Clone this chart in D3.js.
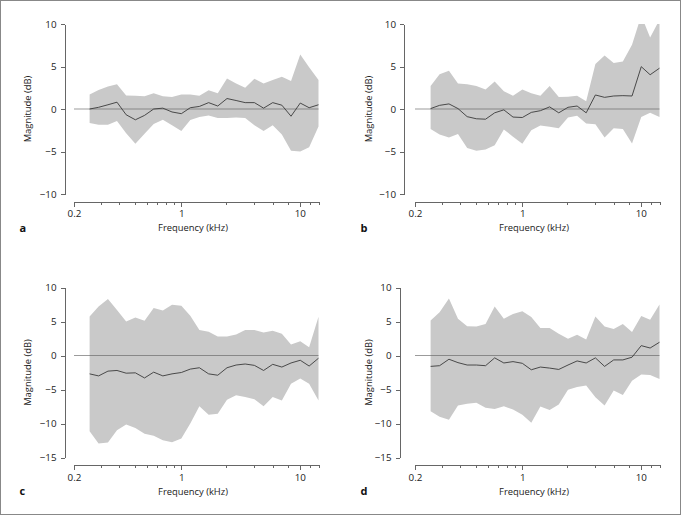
<!DOCTYPE html>
<html>
<head>
<meta charset="utf-8">
<script src="https://cdn.jsdelivr.net/npm/d3@7"></script>
<style>
  body { margin: 0; background: #fff; }
  svg { display: block; font-family: "Open Sans", sans-serif; }
  .axis path, .axis line { stroke: #666; shape-rendering: crispEdges; }
  .axis text { fill: #222; font-size: 9.8px; font-family: "Open Sans", sans-serif; }
</style>
</head>
<body>
<div id="chart"></div>
<script>
var freqs = [0.168, 0.2, 0.24, 0.286, 0.342, 0.409, 0.489, 0.584, 0.698, 0.834, 1.0, 1.19, 1.42, 1.70, 2.03, 2.43, 2.90, 3.46, 4.14, 4.95, 5.91, 7.06, 8.44, 10.1, 12.0, 14.4];

var xMajor = [0.124, 1, 10];
var xMajorLabels = ["0.2", "1", "10"];
var xMinor = [0.21, 0.3, 0.41, 0.51, 0.62, 0.74, 0.87, 2.4, 4.1, 5.9, 7.9, 12.3, 14.4];

var yTicksTop = [-10, -5, 0, 5, 10];
var yTicksBottom = [-15, -10, -5, 0, 5, 10];

// panel a
var aMean  = [0, 0.2, 0.5, 0.8, -0.68, -1.27, -0.75, 0, 0.1, -0.35, -0.55, 0.15, 0.3, 0.75, 0.35, 1.23, 1.0, 0.75, 0.75, 0.1, 0.75, 0.45, -0.85, 0.7, 0.15, 0.5];
var aUpper = [1.7, 2.25, 2.65, 2.9, 1.6, 1.55, 1.5, 1.86, 1.5, 1.4, 1.7, 1.7, 1.55, 2.2, 1.86, 3.6, 3.0, 2.5, 3.55, 3.0, 3.4, 3.8, 3.3, 6.4, 4.9, 3.4];
var aLower = [-1.65, -1.85, -1.85, -1.4, -2.85, -4.1, -2.9, -1.75, -1.27, -1.9, -2.6, -1.3, -0.95, -0.75, -1.05, -1.05, -1.0, -1.05, -1.9, -2.6, -1.9, -3.0, -4.9, -5.0, -4.5, -2.05];

// panel b
var bMean  = [0.05, 0.43, 0.6, 0.05, -0.9, -1.15, -1.2, -0.45, -0.1, -0.95, -1.0, -0.4, -0.2, 0.25, -0.45, 0.2, 0.35, -0.45, 1.65, 1.37, 1.53, 1.57, 1.53, 4.98, 4.03, 4.8];
var bUpper = [2.7, 4.1, 4.5, 3.0, 2.9, 2.7, 2.3, 3.25, 2.1, 1.55, 2.3, 1.85, 1.55, 2.7, 1.4, 1.45, 1.55, 0.9, 5.3, 6.3, 5.4, 5.6, 7.55, 11.0, 8.4, 10.5];
var bLower = [-2.35, -3.0, -3.35, -2.95, -4.6, -4.9, -4.75, -4.25, -2.4, -3.25, -4.1, -2.5, -1.95, -2.1, -2.25, -1.0, -0.8, -1.7, -1.8, -3.35, -2.25, -2.35, -4.05, -0.95, -0.45, -0.95];

// panel c
var cMean  = [-2.7, -3.0, -2.3, -2.2, -2.6, -2.55, -3.3, -2.45, -3.0, -2.7, -2.5, -2.0, -1.8, -2.7, -2.9, -1.8, -1.4, -1.25, -1.45, -2.2, -1.3, -1.7, -1.1, -0.7, -1.55, -0.4];
var cUpper = [5.75, 7.2, 8.3, 6.7, 5.0, 5.6, 5.1, 7.0, 6.6, 7.45, 7.3, 5.85, 3.75, 3.5, 2.8, 2.8, 3.1, 3.75, 3.75, 3.4, 3.65, 3.2, 1.6, 2.1, 1.2, 5.7];
var cLower = [-11.15, -12.95, -12.8, -11.0, -10.15, -10.65, -11.5, -11.8, -12.45, -12.75, -12.2, -10.0, -7.45, -8.7, -8.55, -6.5, -5.85, -6.1, -6.45, -7.45, -6.1, -6.6, -4.15, -3.4, -4.15, -6.6];

// panel d
var dMean  = [-1.6, -1.5, -0.55, -1.05, -1.4, -1.4, -1.5, -0.35, -1.1, -0.9, -1.15, -2.1, -1.7, -1.85, -2.05, -1.4, -0.8, -1.1, -0.35, -1.6, -0.65, -0.65, -0.25, 1.45, 1.1, 1.95];
var dUpper = [5.15, 6.35, 8.4, 5.4, 4.3, 4.25, 4.65, 7.2, 5.4, 6.1, 6.5, 5.65, 4.05, 4.05, 3.2, 2.45, 3.05, 2.35, 5.75, 4.25, 3.9, 4.65, 3.45, 5.8, 5.25, 7.5];
var dLower = [-8.2, -9.0, -9.45, -7.35, -7.1, -6.95, -7.7, -7.85, -7.45, -7.95, -8.7, -9.9, -7.5, -8.0, -7.2, -5.05, -4.65, -4.4, -6.15, -7.35, -5.15, -5.8, -3.7, -2.8, -2.85, -3.45];

var W = 681, H = 515;

var svg = d3.select("#chart").append("svg")
    .attr("width", W)
    .attr("height", H);

svg.append("rect")
    .attr("x", 0.5).attr("y", 0.5)
    .attr("width", W - 1).attr("height", H - 1)
    .attr("fill", "none")
    .attr("stroke", "#888");

var panels = [
    {letter: "a", dx: 0,   dy: 0,     yAxisX: 64.5,  mean: aMean, upper: aUpper, lower: aLower, yDom: [-10, 10], yTicks: yTicksTop},
    {letter: "b", dx: 341, dy: 0,     yAxisX: 63,    mean: bMean, upper: bUpper, lower: bLower, yDom: [-10, 10], yTicks: yTicksTop},
    {letter: "c", dx: 0,   dy: 263.5, yAxisX: 64.5,  mean: cMean, upper: cUpper, lower: cLower, yDom: [-15, 10], yTicks: yTicksBottom},
    {letter: "d", dx: 341, dy: 263.5, yAxisX: 58.5,  mean: dMean, upper: dUpper, lower: dLower, yDom: [-15, 10], yTicks: yTicksBottom}
];

var xScale = d3.scaleLog()
    .domain([0.124, 14.4])
    .range([74, 318.5]);

panels.forEach(function(p, k){
    var g = svg.append("g")
        .attr("transform", "translate(" + p.dx + "," + p.dy + ")");

    var yScale = d3.scaleLinear()
        .domain(p.yDom)
        .range([194, 24]);

    var clipId = "clip_" + p.letter;
    g.append("clipPath").attr("id", clipId)
        .append("rect")
        .attr("x", 60).attr("y", yScale(p.yDom[1]))
        .attr("width", 270).attr("height", yScale(p.yDom[0]) - yScale(p.yDom[1]));

    var rows = freqs.map(function(f, i){
        return {f: f, m: p.mean[i], hi: p.upper[i], lo: p.lower[i]};
    });

    var area = d3.area()
        .x(function(d){ return xScale(d.f) })
        .y0(function(d){ return yScale(d.lo) })
        .y1(function(d){ return yScale(d.hi) });

    g.append("path")
        .datum(rows)
        .attr("d", area)
        .attr("clip-path", "url(#" + clipId + ")")
        .attr("fill", "#c9c9c9");

    // zero reference
    g.append("line")
        .attr("x1", xScale.range()[0]).attr("x2", xScale.range()[1])
        .attr("y1", yScale(0)).attr("y2", yScale(0))
        .attr("stroke", "#666")
        .attr("stroke-opacity", 0.65)
        .attr("stroke-width", 1);

    var line = d3.line()
        .x(function(d){ return xScale(d.f) })
        .y(function(d){ return yScale(d.m) });

    g.append("path")
        .datum(rows)
        .attr("d", line)
        .attr("fill", "none")
        .attr("stroke", "#3a3a3a")
        .attr("stroke-width", 0.9);

    // y axis
    g.append("g")
        .attr("class", "axis")
        .attr("transform", "translate(" + p.yAxisX + ",0)")
        .call(d3.axisLeft(yScale).tickValues(p.yTicks).tickSize(4).tickSizeOuter(0).tickPadding(4));

    // x axis, minor then major ticks
    g.append("g")
        .attr("class", "axis")
        .attr("transform", "translate(0,201.5)")
        .call(d3.axisBottom(xScale).tickValues(xMinor).tickSize(3).tickSizeOuter(0).tickFormat(""));

    g.append("g")
        .attr("class", "axis")
        .attr("transform", "translate(0,201.5)")
        .call(d3.axisBottom(xScale).tickValues(xMajor).tickSize(5).tickSizeOuter(0)
            .tickPadding(4)
            .tickFormat(function(d, i){ return xMajorLabels[i] }));

    g.append("text")
        .attr("x", 193).attr("y", 231)
        .attr("text-anchor", "middle")
        .attr("font-size", "9.4px")
        .attr("fill", "#222")
        .text("Frequency (kHz)");

    g.append("text")
        .attr("transform", "translate(31," + (yScale(p.yDom[0]) + yScale(p.yDom[1])) / 2 + ") rotate(-90)")
        .attr("text-anchor", "middle")
        .attr("font-size", "9.4px")
        .attr("fill", "#222")
        .text("Magnitude (dB)");

    g.append("text")
        .attr("x", 19.5).attr("y", 231.5)
        .attr("font-size", "11px")
        .attr("font-weight", "bold")
        .attr("fill", "#111")
        .text(p.letter);
});
</script>
</body>
</html>
